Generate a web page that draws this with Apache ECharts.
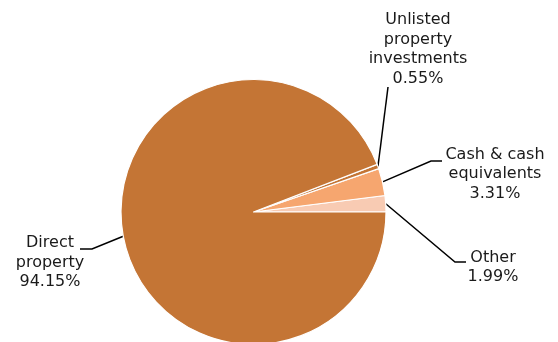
<!DOCTYPE html>
<html><head><meta charset="utf-8">
<script src="https://cdn.jsdelivr.net/npm/echarts@6/dist/echarts.min.js"></script>
<style>html,body{margin:0;padding:0;background:#fff}#c{width:558px;height:342px}</style>
</head><body><div id="c"></div>
<script>
// Data (counter-clockwise from 3 o'clock)
const categories = ['Other', 'Cash & cash\nequivalents', 'Unlisted\nproperty\ninvestments', 'Direct\nproperty'];
const values = [1.99, 3.31, 0.55, 94.15];
const colors = ['#F8CBB3', '#F6A66F', '#C47535', '#C47535'];

// label placement (layout only)
const labelPos = [
  {x: 493, y: 267.5, pts: [[455, 262], [466, 262]]},
  {x: 495, y: 174, pts: [[431, 161], [442, 161]]},
  {x: 418, y: 49.5, pts: [[388, 87], [388, 87]]},
  {x: 50, y: 262.5, pts: [[92, 249], [80, 249]]}
];

const chart = echarts.init(document.getElementById('c'), null, {renderer: 'canvas'});
chart.setOption({
  animation: false,
  series: [{
    type: 'pie',
    center: [253.5, 212],
    radius: [0, 132.5],
    startAngle: 0,
    clockwise: false,
    avoidLabelOverlap: false,
    itemStyle: {borderColor: '#fff', borderWidth: 1.2},
    label: {
      show: true,
      position: 'outside',
      fontFamily: 'DejaVu Sans',
      fontSize: 16,
      lineHeight: 19.6,
      color: '#1a1a1a',
      align: 'center',
      formatter: p => p.name + '\n' + p.value.toFixed(2) + '%'
    },
    labelLine: {show: true, lineStyle: {color: '#000', width: 1.5}},
    labelLayout: function (params) {
      const lp = labelPos[params.dataIndex];
      const p0 = params.labelLinePoints ? params.labelLinePoints[0] : lp.pts[0];
      return {
        x: lp.x, y: lp.y, align: 'center', verticalAlign: 'middle',
        labelLinePoints: [p0, lp.pts[0], lp.pts[1]]
      };
    },
    data: categories.map((c, i) => ({name: c, value: values[i], itemStyle: {color: colors[i]}}))
  }]
});
</script></body></html>
